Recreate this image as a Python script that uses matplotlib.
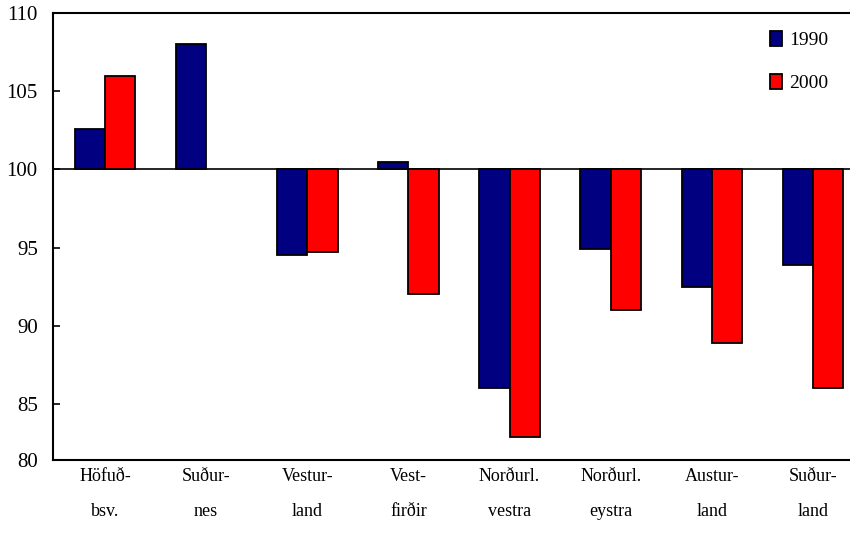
import numpy as np
import matplotlib.pyplot as plt

regions = ["Höfuð-\nbsv.", "Suður-\nnes", "Vestur-\nland", "Vest-\nfirðir",
           "Norðurl.\nvestra", "Norðurl.\neystra", "Austur-\nland", "Suður-\nland"]
years = ["1990", "2000"]
idx_1990 = [102.6, 108.0, 94.55, 100.45, 86.0, 94.9, 92.5, 93.9]
idx_2000 = [106.0, np.nan, 94.7, 92.0, 82.9, 91.0, 88.9, 86.0]
yticks = [85, 90, 95, 100, 105, 110]

plt.rcParams['font.family'] = ['Liberation Serif', 'DejaVu Serif']

fig = plt.figure(figsize=(8.5, 5.47), dpi=100)
ax = fig.add_axes([0.0624, 0.159, 0.9376, 0.817])

base = 100
x = np.arange(len(regions))
w = 0.3
for off, vals, col, lab in [(-w / 2, idx_1990, "#000080", years[0]),
                            (w / 2, idx_2000, "#ff0000", years[1])]:
    v = np.array(vals)
    ax.bar(x + off, v - base, width=w, bottom=base, color=col,
           edgecolor="black", linewidth=1.3, label=lab, zorder=3)

ax.axhline(base, color="black", linewidth=1.2, zorder=2)

bottom = 81.4
ax.set_ylim(bottom, 110)
ax.set_xlim(-0.514, 7.366)
ax.set_yticks([bottom] + yticks)
ax.set_yticklabels(["80"] + [str(t) for t in yticks])
ax.tick_params(axis="y", direction="in", length=5, width=1.2, labelsize=15, pad=11)
ax.set_xticks(x)
ax.set_xticklabels(regions, fontsize=13, linespacing=2.35)
ax.tick_params(axis="x", length=0, pad=6)

ax.spines["right"].set_visible(False)
for s in ["left", "top", "bottom"]:
    ax.spines[s].set_linewidth(1.5)

ax.legend(loc="upper right", frameon=False, fontsize=14, handlelength=0.6,
          handleheight=0.8, handletextpad=0.4, labelspacing=1.3,
          bbox_to_anchor=(0.995, 1.0))

fig.savefig("out.png", dpi=100)
